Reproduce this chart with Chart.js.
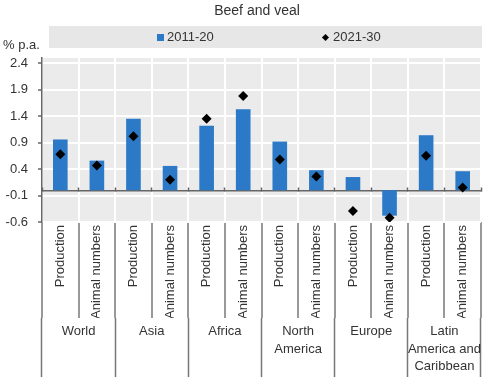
<!DOCTYPE html>
<html>
<head>
<meta charset="utf-8">
<script src="https://cdn.jsdelivr.net/npm/chart.js@4"></script>
<style>
  body { margin: 0; background: #fff; font-family: "Liberation Sans", Arial, sans-serif; color: #333; }
  #contenedor { position: relative; width: 499px; height: 392px; }
  #titulo { position: absolute; left: 207px; width: 100px; top: 2px; text-align: center; font-size: 14px; }
  #unidad { position: absolute; left: 3px; top: 37px; font-size: 13px; }
  #leyenda { position: absolute; left: 49px; top: 26px; width: 433px; height: 22px; background: #e7e7e7; font-size: 13px; }
  .item { position: absolute; top: 3px; line-height: 16px; }
  .cuadro { position: absolute; width: 7px; height: 7px; background: #2b79c7; }
  .rombo { position: absolute; width: 5px; height: 5px; background: #000; transform: rotate(45deg); }
</style>
</head>
<body>
<div id="contenedor">
  <canvas id="grafico" width="499" height="392"></canvas>
  <div id="titulo">Beef and veal</div>
  <div id="unidad">% p.a.</div>
  <div id="leyenda">
    <span class="cuadro" style="left:108px; top:8px;"></span>
    <span class="item" style="left:118px;" id="serie1"></span>
    <span class="rombo" style="left:274px; top:9px;"></span>
    <span class="item" style="left:284px;" id="serie2"></span>
  </div>
</div>
<script>
// Datos
var subCategorias = [
  "Production", "Animal numbers",
  "Production", "Animal numbers",
  "Production", "Animal numbers",
  "Production", "Animal numbers",
  "Production", "Animal numbers",
  "Production", "Animal numbers"
];
var regiones = ["World", "Asia", "Africa", ["North", "America"], "Europe", ["Latin", "America and", "Caribbean"]];
var series = ["2011-20", "2021-30"];
var valores2011 = [0.96, 0.56, 1.35, 0.46, 1.22, 1.53, 0.92, 0.38, 0.25, -0.48, 1.04, 0.36];
var valores2021 = [0.68, 0.47, 1.02, 0.20, 1.35, 1.78, 0.58, 0.26, -0.39, -0.52, 0.65, 0.05];
var ticksY = [-0.6, -0.1, 0.4, 0.9, 1.4, 1.9, 2.4];

document.addEventListener("DOMContentLoaded", function (event) {
  document.getElementById("serie1").textContent = series[0];
  document.getElementById("serie2").textContent = series[1];
  dibujarGrafico();
});

// Fondo gris del area de dibujo
const fondoGris = {
  id: "fondoGris",
  beforeDraw(chart) {
    const a = chart.chartArea;
    const ctx = chart.ctx;
    ctx.save();
    ctx.fillStyle = "#ebebeb";
    ctx.fillRect(a.left, a.top, a.right - a.left, a.bottom - a.top);
    ctx.restore();
  }
};

function dibujarGrafico() {
  Chart.defaults.font.family = '"Liberation Sans", Arial, sans-serif';
  Chart.defaults.color = "#333";

  const datos = {
    labels: subCategorias,
    datasets: [
      {
        type: "line",
        label: series[1],
        data: valores2021,
        showLine: false,
        pointStyle: "rectRot",
        pointRadius: 5,
        pointHoverRadius: 5,
        pointBackgroundColor: "#000",
        pointBorderColor: "#000",
        pointBorderWidth: 0,
        order: 0
      },
      {
        type: "bar",
        label: series[0],
        data: valores2011,
        backgroundColor: "#2b79c7",
        barPercentage: 0.4,
        categoryPercentage: 1,
        order: 1
      }
    ]
  };

  const config = {
    data: datos,
    plugins: [fondoGris],
    options: {
      responsive: false,
      animation: false,
      layout: { padding: { top: 58, left: 5, right: 18, bottom: 15 } },
      plugins: {
        legend: { display: false },
        title: { display: false },
        tooltip: { enabled: false }
      },
      scales: {
        x: {
          type: "category",
          position: "bottom",
          weight: 0,
          offset: true,
          grid: { offset: true, color: "#fff", lineWidth: 2, drawTicks: true, tickLength: 96, tickColor: "#777", tickWidth: 1.5 },
          border: { display: false },
          ticks: { autoSkip: false, minRotation: 90, maxRotation: 90, padding: -93, font: { size: 13 }, color: "#333" },
          afterFit: function (s) { s.height = 96; }
        },
        x2: {
          type: "category",
          labels: regiones,
          position: "bottom",
          weight: 1,
          offset: true,
          grid: { offset: true, drawOnChartArea: false, drawTicks: true, tickLength: 59, tickColor: "#777", tickWidth: 1.5 },
          border: { display: false },
          ticks: { autoSkip: false, maxRotation: 0, padding: -54, font: { size: 13, lineHeight: 1.35 }, color: "#333" },
          afterFit: function (s) { s.height = 59; }
        },
        x0: {
          type: "category",
          position: { y: 0 },
          offset: true,
          grid: { offset: true, drawOnChartArea: false, drawTicks: true, tickLength: -4, tickColor: "#666", tickWidth: 1.5 },
          border: { display: true, color: "#666", width: 1.5 },
          ticks: { display: false }
        },
        y: {
          min: -0.6,
          max: 2.5,
          afterBuildTicks: function (s) {
            s.ticks = ticksY.map(function (v) { return { value: v }; });
          },
          afterFit: function (s) { s.width = 37; },
          grid: { color: "#fff", lineWidth: 2, tickColor: "#666", tickLength: 4, tickWidth: 1.5 },
          border: { display: true, color: "#666", width: 1.5 },
          ticks: {
            padding: 10,
            font: { size: 13 },
            color: "#333",
            callback: function (v) { return v.toFixed(1); }
          }
        }
      }
    }
  };

  const ctx = document.getElementById("grafico").getContext("2d");
  new Chart(ctx, config);
}
</script>
</body>
</html>
